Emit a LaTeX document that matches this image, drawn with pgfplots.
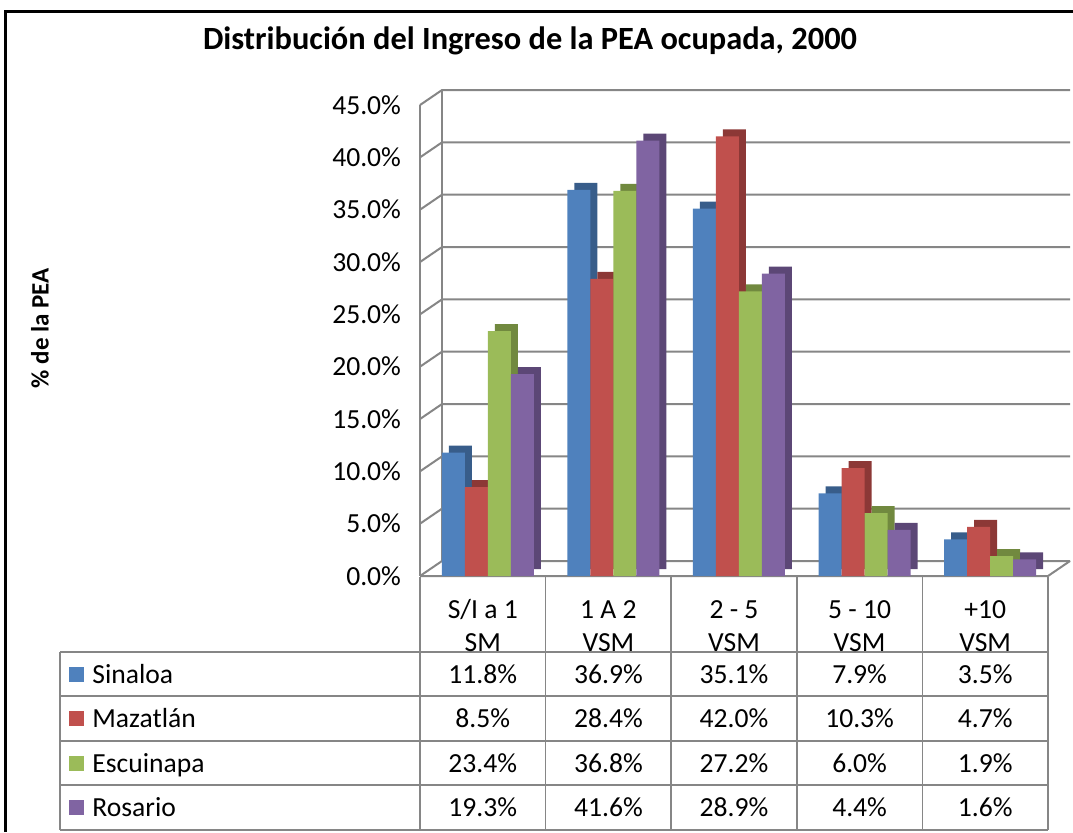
\documentclass[border=0pt]{standalone}
\usepackage{pgfplots}
\usepackage{pgfplotstable}
\usepackage{fontspec}
\setmainfont{Carlito}
\pgfplotsset{compat=1.18}

\definecolor{cBlue}{HTML}{4F81BD}
\definecolor{cBlueD}{HTML}{385D8A}
\definecolor{cRed}{HTML}{C0504D}
\definecolor{cRedD}{HTML}{8C3836}
\definecolor{cGreen}{HTML}{9BBB59}
\definecolor{cGreenD}{HTML}{71893F}
\definecolor{cPurple}{HTML}{8064A2}
\definecolor{cPurpleD}{HTML}{5C4776}
\definecolor{cGrid}{RGB}{134,134,134}

% % de la PEA por rango de ingreso
\pgfplotstableread{
x   sin   maz   esc   ros
0   11.8  8.5   23.4  19.3
1   36.9  28.4  36.8  41.6
2   35.1  42.0  27.2  28.9
3   7.9   10.3  6.0   4.4
4   3.5   4.7   1.9   1.6
}\datos

\newcommand{\fnt}{\fontsize{13.8}{16}\selectfont}

\begin{document}
\begin{tikzpicture}
\begin{scope}[x=0.5pt,y=-0.5pt]
  \useasboundingbox (0,0) rectangle (1073,832);
  % marco exterior
  \draw[line width=1.5pt] (5,832) -- (5,11) -- (1073,11);
  % titulo
  \node[font=\bfseries\fontsize{16.2}{19}\selectfont] at (530,41) {Distribución del Ingreso de la PEA ocupada, 2000};
  \node[font=\bfseries\fontsize{12.5}{15}\selectfont, rotate=90] at (40,328) {\% de la PEA};
  % pared y piso
  \begin{scope}[draw=cGrid, line width=1pt]
    \draw (420,576) -- (420,105);
    \draw (442,561) -- (442,90);
    \foreach \t in {0,...,9}
      \draw (420,{576-52.33*\t}) -- ++(22,-15) -- ++(628,0);
    \draw (420,576) -- (1048,576) -- (1070,561);
  \end{scope}
  % tabla de datos
  \begin{scope}[draw=cGrid, line width=0.75pt]
    \foreach \k in {0,...,5}
      \draw ({420+125.6*\k},577) -- ({420+125.6*\k},830);
    \draw (60,652) -- (60,830);
    \foreach \yy in {652,696,741,785,830}
      \draw (60,\yy) -- (1048,\yy);
  \end{scope}
  \foreach \a/\b [count=\i from 0] in {{S/I a 1}/SM, 1 A 2/VSM, 2 - 5/VSM, 5 - 10/VSM, +10/VSM}{
    \node[font=\fnt, anchor=base] at ({482.8+125.6*\i},618) {\a};
    \node[font=\fnt, anchor=base] at ({482.8+125.6*\i},651) {\b};
  }
  \foreach \nm/\cc/\yc in {Sinaloa/cBlue/674, Mazatlán/cRed/718, Escuinapa/cGreen/763, Rosario/cPurple/807}{
    \fill[\cc] (69,{\yc-7.5}) rectangle (84,{\yc+7.5});
    \node[font=\fnt, anchor=base west, inner sep=0pt] at (92,{\yc+9}) {\nm};
  }
  \foreach \v [count=\i from 0] in {11.8\%,36.9\%,35.1\%,7.9\%,3.5\%}
    \node[font=\fnt, anchor=base] at ({482.8+125.6*\i},683) {\v};
  \foreach \v [count=\i from 0] in {8.5\%,28.4\%,42.0\%,10.3\%,4.7\%}
    \node[font=\fnt, anchor=base] at ({482.8+125.6*\i},727) {\v};
  \foreach \v [count=\i from 0] in {23.4\%,36.8\%,27.2\%,6.0\%,1.9\%}
    \node[font=\fnt, anchor=base] at ({482.8+125.6*\i},772) {\v};
  \foreach \v [count=\i from 0] in {19.3\%,41.6\%,28.9\%,4.4\%,1.6\%}
    \node[font=\fnt, anchor=base] at ({482.8+125.6*\i},816) {\v};
\end{scope}

\begin{axis}[
    at={(210pt,-288pt)}, anchor=south west,
    scale only axis,
    width=314pt, height=235.5pt,
    xmin=-0.5, xmax=4.5,
    ymin=0, ymax=45,
    xtick=\empty,
    ytick={0,5,...,45},
    axis line style={draw=none},
    major tick length=0pt,
    /pgf/number format/assume math mode=true,
    yticklabel={\pgfmathprintnumber[fixed,fixed zerofill,precision=1]{\tick}\%},
    yticklabel style={font=\fnt, xshift=-6pt},
    ybar, bar width=11.5pt,
    clip=false,
  ]
  \addplot[fill=cBlueD, draw=none, bar shift=-11.25pt, yshift=3.5pt] table[x=x,y=sin]{\datos};
  \addplot[fill=cBlue, draw=none, bar shift=-14.75pt] table[x=x,y=sin]{\datos};
  \addplot[fill=cRedD, draw=none, bar shift=0.25pt, yshift=3.5pt] table[x=x,y=maz]{\datos};
  \addplot[fill=cRed, draw=none, bar shift=-3.25pt] table[x=x,y=maz]{\datos};
  \addplot[fill=cGreenD, draw=none, bar shift=11.75pt, yshift=3.5pt] table[x=x,y=esc]{\datos};
  \addplot[fill=cGreen, draw=none, bar shift=8.25pt] table[x=x,y=esc]{\datos};
  \addplot[fill=cPurpleD, draw=none, bar shift=23.25pt, yshift=3.5pt] table[x=x,y=ros]{\datos};
  \addplot[fill=cPurple, draw=none, bar shift=19.75pt] table[x=x,y=ros]{\datos};
\end{axis}
\end{tikzpicture}
\end{document}
